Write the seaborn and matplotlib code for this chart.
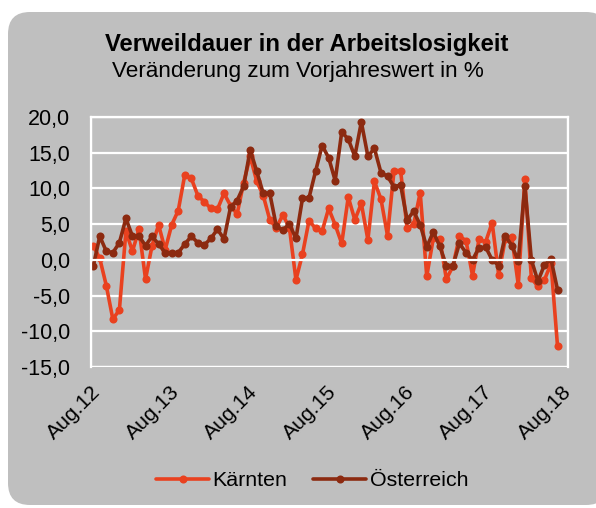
import pandas as pd
import matplotlib
matplotlib.use('Agg')
import matplotlib.pyplot as plt
import seaborn as sns
from matplotlib.patches import FancyBboxPatch, Rectangle
from matplotlib.transforms import IdentityTransform, ScaledTranslation

# Veränderung zum Vorjahreswert in %, monatlich ab Aug.12
kaernten = [2.0, 0.2, -3.6, -8.3, -7.0, 4.0, 1.2, 4.3, -2.7, 2.0, 4.9, 1.4,
            4.9, 6.9, 11.9, 11.4, 9.0, 8.1, 7.2, 7.1, 9.3, 7.6, 6.4, 10.8,
            14.5, 11.0, 9.0, 5.6, 4.5, 6.3, 4.5, -2.8, 0.8, 5.5, 4.4, 4.0,
            7.2, 4.9, 2.3, 8.8, 5.6, 7.9, 2.8, 11.0, 8.5, 3.4, 12.5, 12.5,
            4.4, 5.0, 9.4, -2.3, 3.0, 2.9, -2.7, -0.9, 3.3, 2.7, -2.2, 2.9,
            2.5, 5.2, -2.1, 2.9, 3.2, -3.5, 11.3, -2.6, -3.7, -2.8, -0.5, -12.1]
oesterreich = [-0.9, 3.3, 1.2, 1.0, 2.4, 5.8, 3.3, 3.3, 2.0, 3.3, 2.2, 1.0,
               1.0, 1.0, 2.2, 3.3, 2.4, 2.1, 3.0, 4.3, 2.9, 7.4, 8.3, 10.3,
               15.4, 12.4, 9.3, 9.3, 4.7, 4.2, 5.0, 3.0, 8.6, 8.7, 12.4, 16.0,
               14.3, 11.1, 17.9, 16.9, 14.5, 19.3, 14.5, 15.6, 12.2, 11.7, 10.2, 10.5,
               5.6, 6.8, 4.9, 1.8, 3.9, 1.9, -0.8, -0.8, 2.3, 1.0, 0.0, 1.7,
               1.8, 0.0, -0.8, 3.4, 2.0, -0.1, 10.3, 0.0, -3.0, -0.7, 0.1, -4.2]
x_labels = ['Aug.12', 'Aug.13', 'Aug.14', 'Aug.15', 'Aug.16', 'Aug.17', 'Aug.18']
y_ticks = [-15, -10, -5, 0, 5, 10, 15, 20]

n = len(kaernten)
df = pd.DataFrame({
    'Monat': list(range(n)) * 2,
    'Wert': kaernten + oesterreich,
    'Region': ['Kärnten'] * n + ['Österreich'] * n,
})

sns.set_style('white')
plt.rcParams['font.family'] = ['Liberation Sans', 'DejaVu Sans']
plt.rcParams['text.color'] = 'black'

W, H = 596, 508
fig = plt.figure(figsize=(W / 100, H / 100), dpi=100)
fig.patch.set_facecolor('white')

# grey rounded panel behind everything
panel = FancyBboxPatch((8, 3), 600, 493, boxstyle='round,pad=0,rounding_size=22',
                       transform=IdentityTransform(), fc='#BFBFBF', ec='none', zorder=-10)
fig.add_artist(panel)

ax = fig.add_axes([91 / W, 1 - 367 / H, 477 / W, 250 / H])
ax.set_facecolor('#BFBFBF')

sns.lineplot(data=df, x='Monat', y='Wert', hue='Region',
             palette={'Kärnten': '#E9411F', 'Österreich': '#8C2A10'},
             marker='o', markersize=5.8, markeredgewidth=0, linewidth=2.6, ax=ax)

tick_pos = [-0.34 + 12 * k for k in range(len(x_labels))]
ax.set_xlim(-0.34, 72.6)
ax.set_ylim(-15, 20)
ax.set_yticks(y_ticks)
ax.set_yticklabels([f'{v:.1f}'.replace('.', ',') for v in y_ticks])
ax.grid(axis='y', color='white', lw=1.6)
ax.grid(axis='x', visible=False)
ax.set_axisbelow(True)
for s in ax.spines.values():
    s.set_color('white')
    s.set_linewidth(1.6)
ax.spines['bottom'].set_position(('data', 0))
ax.add_patch(Rectangle((0, 0), 1, 1, transform=ax.transAxes, fill=False,
                       ec='white', lw=1.6, zorder=1))
ax.tick_params(axis='y', direction='out', length=7, width=1.6, color='white',
               labelsize=15.5, labelcolor='black', pad=8)
ax.set_xticks(tick_pos)
ax.tick_params(axis='x', direction='out', length=5, width=1.6, color='white',
               labelbottom=False)
ax.set_xlabel('')
ax.set_ylabel('')

sec = ax.secondary_xaxis(0)
sec.set_xticks(tick_pos, labels=x_labels)
sec.tick_params(length=0, labelsize=15.2, pad=11, labelcolor='black')
sec.spines['bottom'].set_visible(False)
for lbl in sec.get_xticklabels():
    lbl.set_rotation(45)
    lbl.set_ha('right')
    lbl.set_rotation_mode('anchor')
    lbl.set_transform(lbl.get_transform() + ScaledTranslation(0.0, 0, fig.dpi_scale_trans))

handles, labels = ax.get_legend_handles_labels()
ax.legend(handles, labels, loc='center', bbox_to_anchor=(312 / W, 1 - 481 / H),
          bbox_transform=fig.transFigure, ncol=2, frameon=False, fontsize=15.4,
          handlelength=2.5, columnspacing=1.2, handletextpad=0.15)

fig.text(307 / W, 1 - 45 / H, 'Verweildauer in der Arbeitslosigkeit',
         ha='center', va='center', fontsize=17.2, fontweight='bold')
fig.text(298 / W, 1 - 72 / H, 'Veränderung zum Vorjahreswert in %',
         ha='center', va='center', fontsize=16.2)

fig.savefig('out.png', dpi=100)
